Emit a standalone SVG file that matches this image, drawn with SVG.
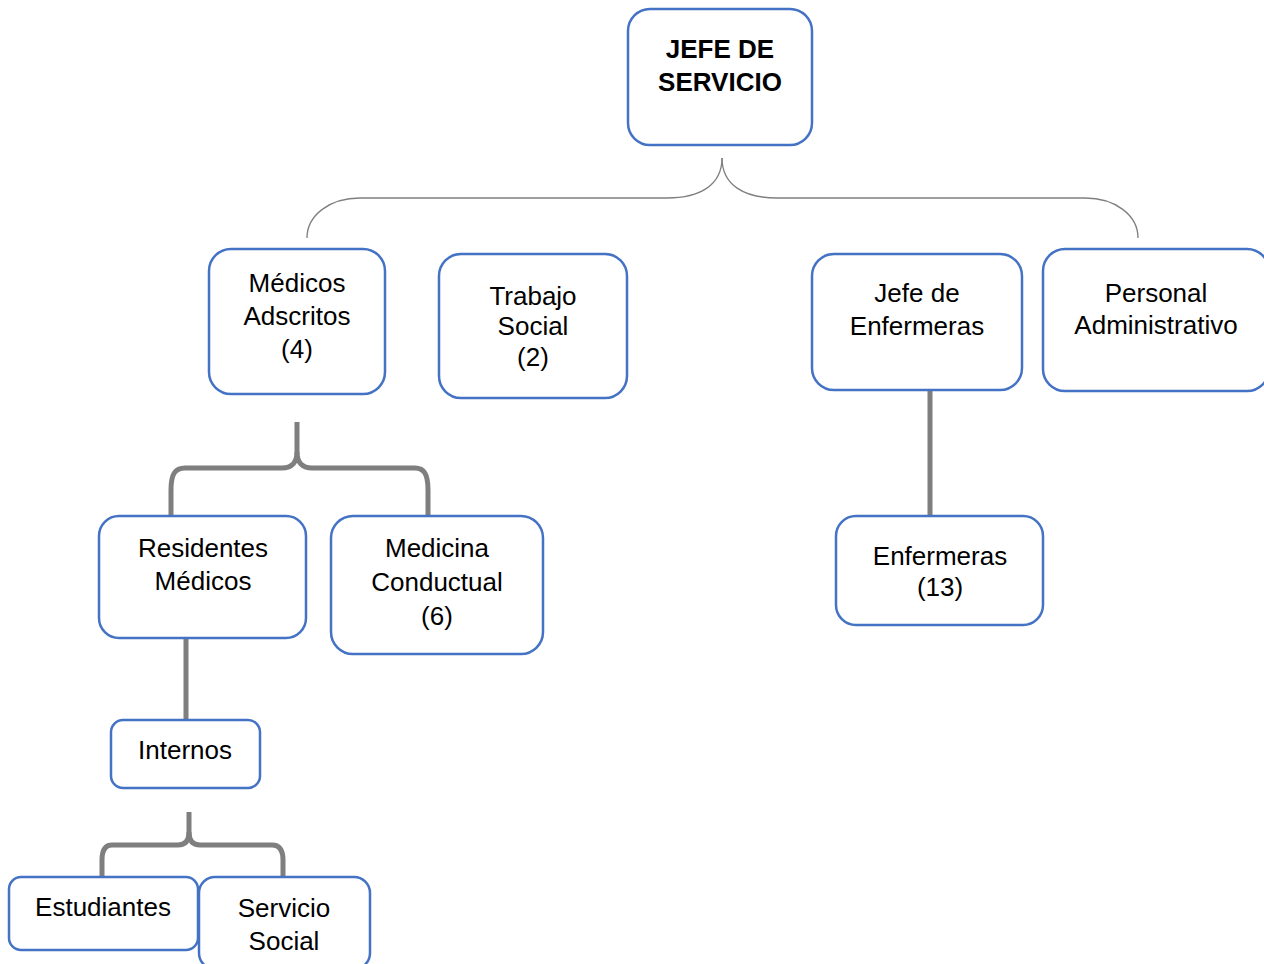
<svg xmlns="http://www.w3.org/2000/svg" width="1264" height="964" viewBox="0 0 1264 964">
<style>
.box{fill:#fff;stroke:#4472C4;stroke-width:2.5}
text{font-family:"Liberation Sans",Arial,sans-serif;font-size:26px;fill:#000;text-anchor:middle}
.b{font-weight:bold}
.thin{fill:none;stroke:#7f7f7f;stroke-width:1.3}
.thick{fill:none;stroke:#7f7f7f;stroke-width:5}
</style>
<rect width="1264" height="964" fill="#fff"/>
<g id="connectors">
<path class="thin" d="M722,158 C722,185 700,198 667,198 L360,198 C330,198 307,215 307,238"/>
<path class="thin" d="M722,158 C722,185 744,198 777,198 L1085,198 C1115,198 1138,215 1138,238"/>
<path class="thick" d="M297,422 L297,452 C297,462 292,468 282,468 L185,468 C175,468 171,474 171,490 L171,516"/>
<path class="thick" d="M297,452 C297,462 302,468 312,468 L415,468 C424,468 428,474 428,490 L428,516"/>
<path class="thick" d="M186,638 L186,720"/>
<path class="thick" d="M930,390 L930,516"/>
<path class="thick" d="M189,812 L189,832 C189,840 186,845 178,845 L112,845 C105,845 102,850 102,860 L102,877"/>
<path class="thick" d="M189,832 C189,840 192,845 200,845 L272,845 C279,845 283,850 283,860 L283,877"/>
</g>
<g id="jefe"><rect class="box" x="628" y="9" width="184" height="136" rx="22"/><text class="b" x="720" y="58">JEFE DE</text><text class="b" x="720" y="91">SERVICIO</text></g>
<g id="medicos"><rect class="box" x="209" y="249" width="176" height="145" rx="22"/><text x="297" y="292">Médicos</text><text x="297" y="325">Adscritos</text><text x="297" y="358">(4)</text></g>
<g id="trabajo"><rect class="box" x="439" y="254" width="188" height="144" rx="22"/><text x="533" y="305">Trabajo</text><text x="533" y="335">Social</text><text x="533" y="366">(2)</text></g>
<g id="jefeenf"><rect class="box" x="812" y="254" width="210" height="136" rx="22"/><text x="917" y="302">Jefe de</text><text x="917" y="335">Enfermeras</text></g>
<g id="personal"><rect class="box" x="1043" y="249" width="226" height="142" rx="22"/><text x="1156" y="302">Personal</text><text x="1156" y="334">Administrativo</text></g>
<g id="residentes"><rect class="box" x="99" y="516" width="207" height="122" rx="20"/><text x="203" y="557">Residentes</text><text x="203" y="590">Médicos</text></g>
<g id="medicina"><rect class="box" x="331" y="516" width="212" height="138" rx="22"/><text x="437" y="557">Medicina</text><text x="437" y="591">Conductual</text><text x="437" y="625">(6)</text></g>
<g id="enfermeras"><rect class="box" x="836" y="516" width="207" height="109" rx="20"/><text x="940" y="565">Enfermeras</text><text x="940" y="596">(13)</text></g>
<g id="internos"><rect class="box" x="111" y="720" width="149" height="68" rx="12"/><text x="185" y="759">Internos</text></g>
<g id="estudiantes"><rect class="box" x="9" y="877" width="189" height="73" rx="12"/><text x="103" y="916">Estudiantes</text></g>
<g id="servicio"><rect class="box" x="199" y="877" width="171" height="92" rx="16"/><text x="284" y="917">Servicio</text><text x="284" y="950">Social</text></g>
</svg>
